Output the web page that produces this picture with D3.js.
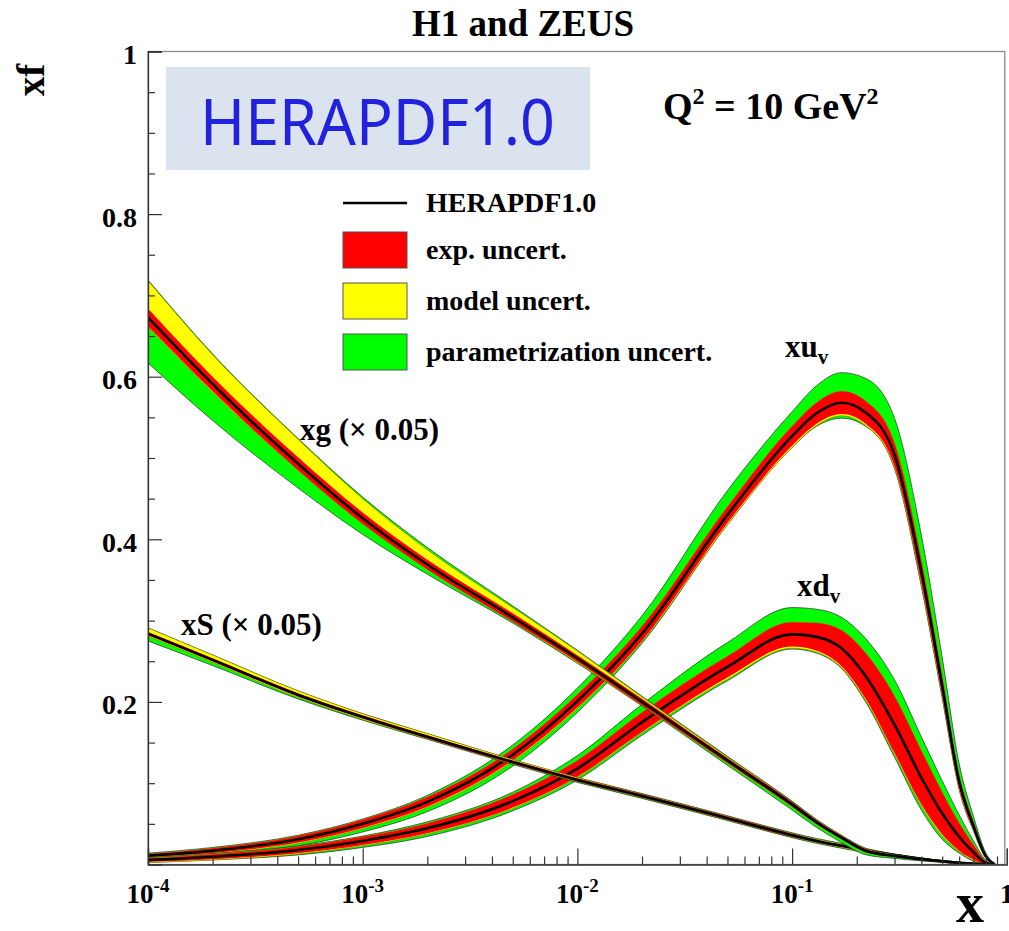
<!DOCTYPE html>
<html>
<head>
<meta charset="utf-8">
<script src="https://cdn.jsdelivr.net/npm/d3@7"></script>
<style>
  html, body { margin: 0; padding: 0; background: #fff; }
  svg { display: block; }
</style>
</head>
<body>
<div id="chart"></div>
<script>
// x grid the PDFs were read at (log scale)
const X_GRID = [1e-4, 2e-4, 5e-4, 1e-3, 2e-3, 5e-3, 0.01, 0.02, 0.05, 0.1, 0.13, 0.17, 0.22, 0.3, 0.4, 0.5, 0.6, 0.7, 0.8, 0.88]

// xg (x 0.05): central value, then half-widths of the nested bands
const XG_C      = [0.673, 0.591, 0.493, 0.426, 0.369, 0.304, 0.2535, 0.200, 0.128, 0.074, 0.052, 0.033, 0.017, 0.0105, 0.0064, 0.004, 0.002, 0.001, 0.0003, 0]
const XG_EXP    = [0.011, 0.009, 0.008, 0.007, 0.006, 0.005, 0.004, 0.004, 0.003, 0.003, 0.0025, 0.002, 0.002, 0.001, 0.001, 0.001, 0.0005, 0.0003, 0.0001, 0]
const XG_MOD_UP = [0.045, 0.036, 0.030, 0.024, 0.018, 0.012, 0.009, 0.006, 0.004, 0.003, 0.0025, 0.002, 0.002, 0.001, 0.001, 0.001, 0.0005, 0.0003, 0.0001, 0]
const XG_MOD_DN = [0.012, 0.010, 0.008, 0.007, 0.006, 0.005, 0.005, 0.004, 0.003, 0.003, 0.0025, 0.002, 0.002, 0.001, 0.001, 0.001, 0.0005, 0.0003, 0.0001, 0]
const XG_TOT_UP = [0.046, 0.037, 0.031, 0.026, 0.021, 0.014, 0.010, 0.007, 0.005, 0.004, 0.0035, 0.003, 0.003, 0.002, 0.001, 0.001, 0.0006, 0.0004, 0.0002, 0]
const XG_TOT_DN = [0.056, 0.045, 0.030, 0.020, 0.012, 0.007, 0.006, 0.005, 0.006, 0.007, 0.0065, 0.006, 0.005, 0.003, 0.002, 0.0015, 0.001, 0.0005, 0.0002, 0]

// xS (x 0.05)
const XS_C      = [0.284, 0.2517, 0.2086, 0.1815, 0.157, 0.126, 0.104, 0.0843, 0.057, 0.036, 0.029, 0.023, 0.0175, 0.0115, 0.007, 0.004, 0.002, 0.001, 0.0003, 0]
const XS_EXP    = [0.002, 0.002, 0.002, 0.002, 0.002, 0.002, 0.002, 0.002, 0.002, 0.002, 0.0015, 0.0015, 0.0015, 0.001, 0.001, 0.0005, 0.0003, 0.0002, 0.0001, 0]
const XS_MOD_UP = [0.007, 0.006, 0.005, 0.004, 0.004, 0.003, 0.003, 0.002, 0.002, 0.002, 0.002, 0.002, 0.002, 0.001, 0.001, 0.0005, 0.0003, 0.0002, 0.0001, 0]
const XS_MOD_DN = [0.003, 0.003, 0.003, 0.003, 0.002, 0.002, 0.002, 0.002, 0.002, 0.002, 0.002, 0.002, 0.002, 0.001, 0.001, 0.0005, 0.0003, 0.0002, 0.0001, 0]
const XS_TOT_UP = [0.007, 0.006, 0.005, 0.004, 0.004, 0.003, 0.003, 0.003, 0.003, 0.003, 0.003, 0.003, 0.002, 0.0015, 0.001, 0.0006, 0.0004, 0.0002, 0.0001, 0]
const XS_TOT_DN = [0.009, 0.007, 0.005, 0.004, 0.003, 0.003, 0.003, 0.003, 0.003, 0.003, 0.003, 0.003, 0.003, 0.002, 0.001, 0.0006, 0.0004, 0.0002, 0.0001, 0]

// xu_v
const XU_C      = [0.011, 0.017, 0.031, 0.050, 0.077, 0.135, 0.201, 0.284, 0.430, 0.527, 0.555, 0.568, 0.556, 0.504, 0.36, 0.22, 0.102, 0.047, 0.0098, 0]
const XU_EXP    = [0.002, 0.003, 0.004, 0.005, 0.006, 0.007, 0.008, 0.009, 0.010, 0.012, 0.013, 0.014, 0.014, 0.014, 0.014, 0.012, 0.008, 0.005, 0.002, 0]
const XU_MOD_UP = [0.002, 0.003, 0.004, 0.005, 0.006, 0.007, 0.008, 0.009, 0.010, 0.012, 0.013, 0.014, 0.014, 0.014, 0.014, 0.012, 0.008, 0.005, 0.002, 0]
const XU_MOD_DN = [0.003, 0.004, 0.005, 0.006, 0.007, 0.008, 0.009, 0.010, 0.012, 0.014, 0.015, 0.016, 0.016, 0.016, 0.016, 0.013, 0.009, 0.006, 0.002, 0]
const XU_TOT_UP = [0.003, 0.004, 0.005, 0.006, 0.008, 0.012, 0.016, 0.022, 0.030, 0.030, 0.034, 0.037, 0.042, 0.045, 0.045, 0.035, 0.022, 0.012, 0.004, 0]
const XU_TOT_DN = [0.005, 0.006, 0.008, 0.010, 0.012, 0.014, 0.014, 0.012, 0.012, 0.014, 0.016, 0.019, 0.017, 0.017, 0.018, 0.015, 0.010, 0.006, 0.002, 0]

// xd_v
const XD_C      = [0.0055, 0.0096, 0.0178, 0.029, 0.0445, 0.078, 0.118, 0.175, 0.243, 0.283, 0.280, 0.266, 0.232, 0.172, 0.107, 0.063, 0.034, 0.015, 0.002, 0]
const XD_EXP    = [0.002, 0.003, 0.004, 0.005, 0.006, 0.008, 0.010, 0.012, 0.013, 0.015, 0.017, 0.022, 0.028, 0.035, 0.033, 0.026, 0.017, 0.009, 0.002, 0]
const XD_MOD_UP = [0.002, 0.003, 0.004, 0.005, 0.006, 0.008, 0.010, 0.012, 0.013, 0.015, 0.017, 0.022, 0.028, 0.035, 0.033, 0.026, 0.017, 0.009, 0.002, 0]
const XD_MOD_DN = [0.003, 0.004, 0.005, 0.006, 0.007, 0.009, 0.011, 0.013, 0.015, 0.017, 0.019, 0.024, 0.030, 0.037, 0.035, 0.028, 0.018, 0.010, 0.002, 0]
const XD_TOT_UP = [0.003, 0.004, 0.005, 0.006, 0.008, 0.011, 0.016, 0.022, 0.030, 0.033, 0.034, 0.038, 0.046, 0.055, 0.050, 0.040, 0.027, 0.014, 0.003, 0]
const XD_TOT_DN = [0.003, 0.004, 0.006, 0.008, 0.010, 0.012, 0.014, 0.016, 0.017, 0.018, 0.020, 0.025, 0.032, 0.040, 0.040, 0.032, 0.020, 0.011, 0.002, 0]

// axes
const X_MAJOR = [1e-4, 1e-3, 1e-2, 1e-1, 1]
const X_MAJOR_EXP = ['-4', '-3', '-2', '-1', '']
const Y_MAJOR = [0.2, 0.4, 0.6, 0.8, 1]
const Y_MAJOR_LABELS = ['0.2', '0.4', '0.6', '0.8', '1']

const LEGEND_LABELS = ['HERAPDF1.0', 'exp. uncert.', 'model uncert.', 'parametrization uncert.']

const RED = '#ff0000'
const YELLOW = '#ffff00'
const GREEN = '#00ff00'
const SERIF = '"Liberation Serif","Times New Roman",serif'

const W = 1009, H = 931
const plot = { left: 148, right: 1006.8, top: 51.5, bottom: 864.5 }

const x = d3.scaleLog().domain([1e-4, 1]).range([plot.left, plot.right])
const y = d3.scaleLinear().domain([0, 1]).range([plot.bottom, plot.top])

const svg = d3.select('#chart').append('svg')
  .attr('width', W).attr('height', H)
  .attr('viewBox', `0 0 ${W} ${H}`)

svg.append('defs').append('clipPath').attr('id', 'plotclip')
  .append('rect')
  .attr('x', plot.left).attr('y', plot.top)
  .attr('width', plot.right - plot.left).attr('height', plot.bottom - plot.top)

function makeSeries(c, exp, modUp, modDn, totUp, totDn) {
  return X_GRID.map((xv, i) => ({
    x: xv,
    c: c[i],
    expLo: Math.max(0, c[i] - exp[i]), expHi: c[i] + exp[i],
    modLo: Math.max(0, c[i] - modDn[i]), modHi: c[i] + modUp[i],
    totLo: Math.max(0, c[i] - totDn[i]), totHi: c[i] + totUp[i],
  }))
}

const series = [
  makeSeries(XU_C, XU_EXP, XU_MOD_UP, XU_MOD_DN, XU_TOT_UP, XU_TOT_DN),
  makeSeries(XD_C, XD_EXP, XD_MOD_UP, XD_MOD_DN, XD_TOT_UP, XD_TOT_DN),
  makeSeries(XS_C, XS_EXP, XS_MOD_UP, XS_MOD_DN, XS_TOT_UP, XS_TOT_DN),
  makeSeries(XG_C, XG_EXP, XG_MOD_UP, XG_MOD_DN, XG_TOT_UP, XG_TOT_DN),
]

const curves = svg.append('g').attr('clip-path', 'url(#plotclip)')

const band = (lo, hi) => d3.area()
  .x(d => x(d.x)).y0(d => y(d[lo])).y1(d => y(d[hi]))
  .curve(d3.curveMonotoneX)
const centralLine = d3.line().x(d => x(d.x)).y(d => y(d.c)).curve(d3.curveMonotoneX)

series.forEach(s => {
  const g = curves.append('g')
  g.append('path').datum(s).attr('d', band('totLo', 'totHi'))
    .attr('fill', GREEN).attr('stroke', '#2b2b2b').attr('stroke-width', 0.7)
  g.append('path').datum(s).attr('d', band('modLo', 'modHi'))
    .attr('fill', YELLOW).attr('stroke', '#6b6b00').attr('stroke-width', 0.5)
  g.append('path').datum(s).attr('d', band('expLo', 'expHi'))
    .attr('fill', RED)
  g.append('path').datum(s).attr('d', centralLine)
    .attr('fill', 'none').attr('stroke', '#000').attr('stroke-width', 2.6)
})

// frame
svg.append('rect')
  .attr('x', plot.left).attr('y', plot.top)
  .attr('width', plot.right - plot.left - 2).attr('height', plot.bottom - plot.top)
  .attr('fill', 'none').attr('stroke', '#8a8a8a').attr('stroke-width', 1.3)

// Y axis (ticks point inward)
const yMinor = d3.range(0.05, 1.0001, 0.05).filter(v => Math.abs(v * 5 - Math.round(v * 5)) > 1e-6)
svg.append('g')
  .attr('transform', `translate(${plot.left},0)`)
  .call(d3.axisLeft(y).tickValues(yMinor).tickSize(-7).tickFormat(''))
  .call(g => {
    g.select('.domain').remove()
    g.selectAll('.tick line').attr('stroke', '#333').attr('stroke-width', 1.2)
  })
svg.append('g')
  .attr('transform', `translate(${plot.left},0)`)
  .call(d3.axisLeft(y).tickValues(Y_MAJOR).tickSize(-14).tickPadding(11)
    .tickFormat((d, i) => Y_MAJOR_LABELS[i]))
  .call(g => {
    g.select('.domain').attr('stroke', '#333').attr('stroke-width', 1.3)
    g.selectAll('.tick line').attr('stroke', '#333').attr('stroke-width', 1.2)
    g.selectAll('.tick text')
      .attr('fill', '#000').attr('font-size', '28px').attr('font-weight', 'bold')
      .attr('font-family', SERIF).attr('dy', 12)
  })

// X axis (ticks point inward)
const xMinor = []
for (let e = -4; e < 0; e++) for (let m = 2; m <= 9; m++) xMinor.push(m * Math.pow(10, e))
svg.append('g')
  .attr('transform', `translate(0,${plot.bottom})`)
  .call(d3.axisBottom(x).tickValues(xMinor).tickSize(-8).tickFormat(''))
  .call(g => {
    g.select('.domain').remove()
    g.selectAll('.tick line').attr('stroke', '#333').attr('stroke-width', 1.2)
  })
svg.append('g')
  .attr('transform', `translate(0,${plot.bottom})`)
  .call(d3.axisBottom(x).tickValues(X_MAJOR).tickSize(-16).tickFormat(''))
  .call(g => {
    g.select('.domain').attr('stroke', '#333').attr('stroke-width', 1.3)
    g.selectAll('.tick line').attr('stroke', '#333').attr('stroke-width', 1.2)
  })

const xLab = svg.append('g')
X_MAJOR.forEach((v, i) => {
  const t = xLab.append('text')
    .attr('x', x(v)).attr('y', 903)
    .attr('text-anchor', 'middle')
    .attr('font-family', SERIF).attr('font-weight', 'bold').attr('font-size', '27px')
  if (X_MAJOR_EXP[i]) {
    t.append('tspan').text('10')
    t.append('tspan').attr('font-size', '19px').attr('dy', -11).text(X_MAJOR_EXP[i])
  } else {
    t.text('1')
  }
})

// axis titles
svg.append('text')
  .attr('x', 970).attr('y', 922)
  .attr('text-anchor', 'middle')
  .attr('font-family', SERIF).attr('font-weight', 'bold').attr('font-size', '56px')
  .text('x')
svg.append('text')
  .attr('transform', 'translate(44,80) rotate(-90)')
  .attr('text-anchor', 'middle')
  .attr('font-family', SERIF).attr('font-weight', 'bold').attr('font-size', '39px')
  .text('xf')

// title
svg.append('text')
  .attr('x', 523).attr('y', 36)
  .attr('text-anchor', 'middle')
  .attr('font-family', SERIF).attr('font-weight', 'bold').attr('font-size', '37px')
  .text('H1 and ZEUS')

// HERAPDF1.0 banner
svg.append('rect')
  .attr('x', 166).attr('y', 67).attr('width', 424).attr('height', 103)
  .attr('fill', '#dbe3ef')
svg.append('text')
  .attr('x', 200).attr('y', 145)
  .attr('font-family', '"Noto Sans","DejaVu Sans",sans-serif').attr('font-size', '64px')
  .attr('fill', '#2222dd')
  .attr('textLength', 355).attr('lengthAdjust', 'spacingAndGlyphs')
  .text('HERAPDF1.0')

// Q^2 label
const q = svg.append('text')
  .attr('x', 663).attr('y', 119)
  .attr('font-family', SERIF).attr('font-weight', 'bold').attr('font-size', '38px')
q.append('tspan').text('Q')
q.append('tspan').attr('font-size', '24px').attr('dy', -15).text('2')
q.append('tspan').attr('dy', 15).text(' = 10 GeV')
q.append('tspan').attr('font-size', '24px').attr('dy', -15).text('2')

// legend
const legend = svg.append('g')
  .attr('font-family', SERIF).attr('font-weight', 'bold').attr('font-size', '28px')
const legendFills = [null, RED, YELLOW, GREEN]
const legendRowY = [203, 250, 301, 352]
LEGEND_LABELS.forEach((label, i) => {
  const cy = legendRowY[i]
  if (i === 0) {
    legend.append('line')
      .attr('x1', 343).attr('x2', 407).attr('y1', cy).attr('y2', cy)
      .attr('stroke', '#000').attr('stroke-width', 2.6)
  } else {
    legend.append('rect')
      .attr('x', 343).attr('y', cy - 18).attr('width', 64).attr('height', 36)
      .attr('fill', legendFills[i]).attr('stroke', '#555').attr('stroke-width', 1)
  }
  legend.append('text').attr('x', 426).attr('y', cy + 9).text(label)
})

// curve labels
const labels = svg.append('g')
  .attr('font-family', SERIF).attr('font-weight', 'bold').attr('font-size', '31px')
labels.append('text').attr('x', 300).attr('y', 440).text('xg (\u00d7 0.05)')
labels.append('text').attr('x', 181).attr('y', 635).text('xS (\u00d7 0.05)')
const lu = labels.append('text').attr('x', 785).attr('y', 357)
lu.append('tspan').text('xu')
lu.append('tspan').attr('font-size', '21px').attr('dy', 7).text('v')
const ld = labels.append('text').attr('x', 797).attr('y', 596)
ld.append('tspan').text('xd')
ld.append('tspan').attr('font-size', '21px').attr('dy', 7).text('v')
</script>
</body>
</html>
